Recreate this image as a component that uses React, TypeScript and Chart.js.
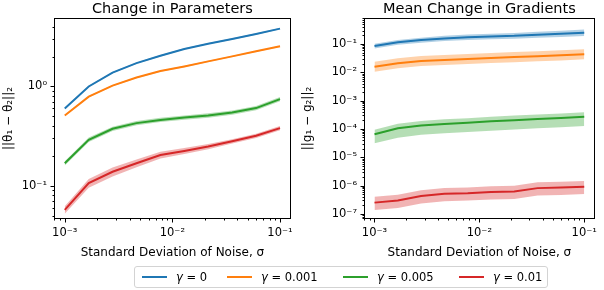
import React, { useEffect, useRef } from 'react';
import { Chart, registerables } from 'chart.js';
Chart.register(...registerables);

// ---------- data ----------
const sigma = [0.001, 0.00167, 0.00278, 0.00464, 0.00774, 0.0129, 0.0215, 0.0359, 0.0599, 0.1];
const seriesLabels = ['γ = 0', 'γ = 0.001', 'γ = 0.005', 'γ = 0.01'];

// Change in Parameters (mean, lower, upper)
const paramG0 = [0.60, 1.00, 1.38, 1.72, 2.04, 2.39, 2.70, 3.01, 3.38, 3.83];
const paramG0Lo = [0.59, 0.985, 1.36, 1.695, 2.01, 2.355, 2.66, 2.965, 3.33, 3.77];
const paramG0Hi = [0.61, 1.015, 1.40, 1.745, 2.07, 2.425, 2.74, 3.055, 3.43, 3.89];
const paramG1 = [0.51, 0.79, 1.02, 1.23, 1.43, 1.59, 1.79, 2.01, 2.26, 2.54];
const paramG1Lo = [0.502, 0.778, 1.005, 1.212, 1.409, 1.566, 1.763, 1.98, 2.226, 2.502];
const paramG1Hi = [0.518, 0.802, 1.035, 1.248, 1.451, 1.614, 1.817, 2.04, 2.294, 2.578];
const paramG2 = [0.168, 0.29, 0.374, 0.427, 0.46, 0.486, 0.51, 0.546, 0.605, 0.746];
const paramG2Lo = [0.160, 0.276, 0.355, 0.406, 0.437, 0.462, 0.485, 0.519, 0.575, 0.709];
const paramG2Hi = [0.176, 0.305, 0.393, 0.448, 0.483, 0.510, 0.536, 0.573, 0.635, 0.783];
const paramG3 = [0.057, 0.106, 0.138, 0.168, 0.204, 0.224, 0.248, 0.28, 0.318, 0.38];
const paramG3Lo = [0.052, 0.095, 0.124, 0.153, 0.188, 0.208, 0.233, 0.266, 0.302, 0.361];
const paramG3Hi = [0.062, 0.117, 0.152, 0.183, 0.220, 0.240, 0.263, 0.294, 0.334, 0.399];

// Mean Change in Gradients (mean, lower, upper)
const gradG0 = [0.085, 0.115, 0.138, 0.158, 0.174, 0.186, 0.195, 0.214, 0.229, 0.251];
const gradG0Lo = [0.070, 0.094, 0.112, 0.127, 0.139, 0.148, 0.154, 0.168, 0.178, 0.193];
const gradG0Hi = [0.102, 0.139, 0.168, 0.194, 0.215, 0.232, 0.246, 0.272, 0.295, 0.326];
const gradG1 = [0.0158, 0.0209, 0.0251, 0.0272, 0.0295, 0.0324, 0.0347, 0.0372, 0.0398, 0.0437];
const gradG1Lo = [0.0104, 0.0138, 0.0166, 0.0180, 0.0195, 0.0214, 0.0229, 0.0246, 0.0263, 0.0288];
const gradG1Hi = [0.0237, 0.0314, 0.0377, 0.0408, 0.0443, 0.0486, 0.0521, 0.0558, 0.0597, 0.0656];
const gradG2 = [6.5e-5, 1.05e-4, 1.32e-4, 1.51e-4, 1.66e-4, 1.86e-4, 2.04e-4, 2.24e-4, 2.45e-4, 2.69e-4];
const gradG2Lo = [3.1e-5, 4.9e-5, 6.2e-5, 7.1e-5, 7.8e-5, 8.7e-5, 9.6e-5, 1.05e-4, 1.15e-4, 1.26e-4];
const gradG2Hi = [9.4e-5, 1.52e-4, 1.91e-4, 2.19e-4, 2.41e-4, 2.70e-4, 2.96e-4, 3.25e-4, 3.55e-4, 3.9e-4];
const gradG3 = [2.5e-7, 2.95e-7, 4.27e-7, 5.13e-7, 5.37e-7, 5.89e-7, 6.17e-7, 8.13e-7, 8.51e-7, 9.12e-7];
const gradG3Lo = [1.38e-7, 1.62e-7, 2.35e-7, 2.82e-7, 2.95e-7, 3.24e-7, 3.39e-7, 4.47e-7, 4.68e-7, 5.0e-7];
const gradG3Hi = [4.0e-7, 4.7e-7, 6.8e-7, 8.2e-7, 8.6e-7, 9.4e-7, 9.9e-7, 1.3e-6, 1.36e-6, 1.46e-6];

const COLORS = ['#1f77b4', '#ff7f0e', '#2ca02c', '#d62728'];
const BANDS = ['rgba(31,119,180,0.35)', 'rgba(255,127,14,0.35)', 'rgba(44,160,44,0.35)', 'rgba(214,39,40,0.35)'];
const FONT = "'DejaVu Sans', sans-serif";

const SUP: Record<string, string> = { '-': '⁻', '0': '⁰', '1': '¹', '2': '²', '3': '³', '4': '⁴', '5': '⁵', '6': '⁶', '7': '⁷', '8': '⁸', '9': '⁹' };
const supStr = (n: number) => String(n).split('').map((c) => SUP[c] || c).join('');
const isPow10 = (v: number) => { const e = Math.log10(v); return Math.abs(e - Math.round(e)) < 1e-6; };

function logTicks(min: number, max: number) {
  const out: { value: number }[] = [];
  for (let e = Math.floor(Math.log10(min)); e <= Math.ceil(Math.log10(max)); e++) {
    for (let m = 1; m <= 9; m++) {
      const v = m * Math.pow(10, e);
      if (v >= min && v <= max) out.push({ value: v });
    }
  }
  return out;
}

const framePlugin = {
  id: 'frame',
  afterDraw(chart: any, _a: any, opts: any) {
    const { ctx, chartArea: a } = chart;
    ctx.save();
    ctx.strokeStyle = '#000';
    ctx.lineWidth = 1;
    const L = Math.round(a.left) + 0.5, R = Math.round(a.right) - 0.5, T = Math.round(a.top) + 0.5, B = Math.round(a.bottom) - 0.5;
    ctx.strokeRect(L, T, R - L, B - T);
    const xs = chart.scales.x, ys = chart.scales.y;
    ctx.beginPath();
    for (const t of xs.ticks) {
      const p = Math.round(xs.getPixelForValue(t.value)) + 0.5;
      const len = isPow10(t.value) ? 4 : 2;
      ctx.moveTo(p, B); ctx.lineTo(p, B + len);
    }
    for (const t of ys.ticks) {
      const p = Math.round(ys.getPixelForValue(t.value)) + 0.5;
      const len = isPow10(t.value) ? 4 : 2;
      ctx.moveTo(L, p); ctx.lineTo(L - len, p);
    }
    ctx.stroke();
    ctx.fillStyle = '#000';
    ctx.font = `14.5px ${FONT}`;
    ctx.textAlign = 'center';
    ctx.textBaseline = 'alphabetic';
    ctx.fillText(opts.text, (a.left + a.right) / 2, a.top - 5);
    ctx.restore();
  },
};

function makeDatasets(means: number[][], los: number[][], his: number[][]) {
  const ds: any[] = [];
  means.forEach((m, i) => {
    ds.push({ label: seriesLabels[i], data: sigma.map((x, k) => ({ x, y: m[k] })), borderColor: COLORS[i], borderWidth: 2, pointRadius: 0, fill: false, order: 0 });
  });
  means.forEach((_m, i) => {
    const hiIdx = ds.length;
    ds.push({ label: 'hi' + i, data: sigma.map((x, k) => ({ x, y: his[i][k] })), borderWidth: 0, borderColor: 'transparent', pointRadius: 0, fill: false, order: 1 });
    ds.push({ label: 'lo' + i, data: sigma.map((x, k) => ({ x, y: los[i][k] })), borderWidth: 0, borderColor: 'transparent', pointRadius: 0, fill: { target: hiIdx }, backgroundColor: BANDS[i], order: 1 });
  });
  return ds;
}

type PanelProps = {
  title: string; yTitle: string; means: number[][]; los: number[][]; his: number[][];
  yMin: number; yMax: number; yWidth: number; padRight: number; width: number; left: number; yTitlePad: number;
};

function Panel(p: PanelProps) {
  const ref = useRef<HTMLCanvasElement>(null);
  useEffect(() => {
    const xMin = Math.pow(10, -3.1), xMax = Math.pow(10, -0.9);
    const tickCb = (v: any) => (isPow10(Number(v)) ? '10' + supStr(Math.round(Math.log10(Number(v)))) : '');
    const chart = new Chart(ref.current!, {
      type: 'line',
      data: { datasets: makeDatasets(p.means, p.los, p.his) },
      plugins: [framePlugin],
      options: {
        animation: false,
        responsive: false,
        devicePixelRatio: 1,
        layout: { padding: { left: 0, top: 18, right: p.padRight, bottom: 25 } },
        plugins: { legend: { display: false }, tooltip: { enabled: false }, frame: { text: p.title } } as any,
        scales: {
          x: {
            type: 'logarithmic', min: xMin, max: xMax,
            grid: { display: false, drawTicks: false },
            border: { display: false },
            afterBuildTicks: (s: any) => { s.ticks = logTicks(xMin, xMax); },
            afterFit: (s: any) => { s.height = 46; },
            ticks: { autoSkip: false, maxRotation: 0, padding: 7, color: '#000', font: { family: FONT, size: 11.5 }, callback: tickCb },
            title: { display: true, text: 'Standard Deviation of Noise, σ', color: '#000', font: { family: FONT, size: 12 }, padding: { top: 0, bottom: 5 } },
          },
          y: {
            type: 'logarithmic', min: p.yMin, max: p.yMax,
            grid: { display: false, drawTicks: false },
            border: { display: false },
            afterBuildTicks: (s: any) => { s.ticks = logTicks(p.yMin, p.yMax); },
            afterFit: (s: any) => { s.width = p.yWidth; },
            ticks: { autoSkip: false, padding: 7, color: '#000', font: { family: FONT, size: 11.5 }, callback: tickCb },
            title: { display: true, text: p.yTitle, color: '#000', font: { family: FONT, size: 12 }, padding: { top: p.yTitlePad, bottom: 0 } },
          },
        } as any,
      } as any,
    });
    return () => chart.destroy();
  }, []);
  return <canvas ref={ref} width={p.width} height={290} style={{ position: 'absolute', left: p.left, top: 0, width: p.width, height: 290 }} />;
}

const legendPos = [142, 227, 343, 459];

export default function App() {
  return (
    <div style={{ position: 'fixed', left: 0, top: 0, width: 604, height: 290, background: '#fff', overflow: 'hidden' }}>
      <Panel title="Change in Parameters" yTitle="||θ₁ − θ₂||₂" means={[paramG0, paramG1, paramG2, paramG3]}
        los={[paramG0Lo, paramG1Lo, paramG2Lo, paramG3Lo]} his={[paramG0Hi, paramG1Hi, paramG2Hi, paramG3Hi]}
        yMin={0.0461} yMax={4.9} yWidth={54} padRight={7} width={300} left={0} yTitlePad={2} />
      <Panel title="Mean Change in Gradients" yTitle="||g₁ − g₂||₂" means={[gradG0, gradG1, gradG2, gradG3]}
        los={[gradG0Lo, gradG1Lo, gradG2Lo, gradG3Lo]} his={[gradG0Hi, gradG1Hi, gradG2Hi, gradG3Hi]}
        yMin={6.6e-8} yMax={0.83} yWidth={64} padRight={2} width={304} left={300} yTitlePad={1} />
      <div style={{ position: 'absolute', left: 134, top: 266, width: 414, height: 22, border: '1px solid #d3d3d3', borderRadius: 3, boxSizing: 'border-box', font: `11.5px ${FONT}`, color: '#000' }}>
        {seriesLabels.map((lab, i) => (
          <React.Fragment key={lab}>
            <div style={{ position: 'absolute', left: legendPos[i] - 134 - 1, top: 9, width: 25, height: 2, background: COLORS[i] }} />
            <div style={{ position: 'absolute', left: legendPos[i] - 134 + 34 - 1, top: 3, lineHeight: '14px', whiteSpace: 'nowrap' }}>
              <i>γ</i>{lab.slice(1)}
            </div>
          </React.Fragment>
        ))}
      </div>
    </div>
  );
}
